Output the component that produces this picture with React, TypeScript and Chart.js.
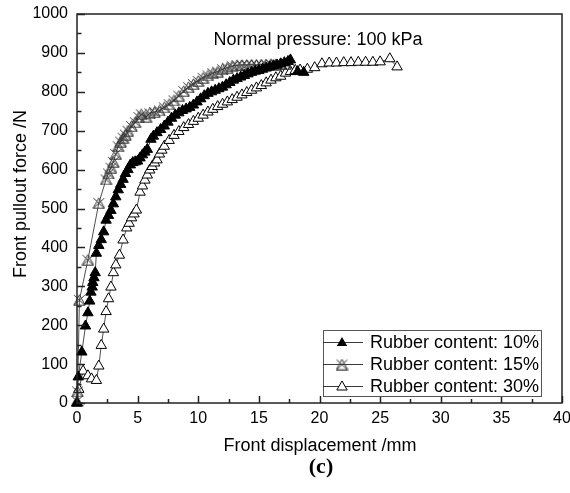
import { useEffect, useRef } from "react";
import { Chart, registerables } from "chart.js";

Chart.register(...registerables);

// Rubber content 10 %
const disp10 = [0, 0.1, 0.4, 0.7, 0.9, 1.05, 1.15, 1.25, 1.3, 1.4, 1.5, 1.6, 1.8, 2.0, 2.2, 2.4, 2.6, 2.8, 3.0, 3.2, 3.4, 3.6, 3.8, 4.0, 4.2, 4.4, 4.6, 4.8, 5.0, 5.2, 5.4, 5.6, 5.8, 6.1, 6.3, 6.6, 6.9, 7.2, 7.5, 7.8, 8.1, 8.4, 8.7, 9.0, 9.3, 9.6, 9.9, 10.2, 10.5, 10.8, 11.1, 11.4, 11.7, 12.0, 12.3, 12.6, 12.9, 13.2, 13.5, 13.8, 14.1, 14.4, 14.7, 15.0, 15.3, 15.6, 15.9, 16.2, 16.5, 16.8, 17.1, 17.4, 17.6, 18.2, 18.7];
const force10 = [0, 67, 131, 198, 232, 262, 285, 298, 310, 322, 335, 385, 405, 420, 440, 470, 482, 495, 512, 530, 548, 562, 575, 590, 600, 612, 618, 620, 622, 630, 638, 645, 652, 678, 686, 695, 703, 712, 722, 732, 740, 746, 752, 756, 760, 766, 774, 782, 790, 796, 800, 804, 808, 812, 818, 824, 830, 834, 838, 842, 846, 850, 853, 855, 858, 861, 864, 867, 869, 872, 875, 878, 882, 852, 850];

// Rubber content 15 %
const disp15 = [0, 0.05, 0.2, 0.9, 1.8, 2.4, 2.6, 2.8, 3.0, 3.2, 3.4, 3.6, 3.8, 4.0, 4.2, 4.5, 4.8, 5.1, 5.3, 5.7, 6.0, 6.4, 6.8, 7.2, 7.6, 8.0, 8.4, 8.8, 9.2, 9.6, 10.0, 10.4, 10.8, 11.2, 11.6, 12.0, 12.4, 12.8, 13.2, 13.6, 14.0, 14.4, 14.8, 15.2, 15.6, 16.0, 16.4, 16.8, 17.2];
const force15 = [5, 30, 265, 368, 514, 575, 590, 605, 620, 640, 660, 672, 682, 690, 700, 712, 722, 735, 742, 736, 745, 748, 752, 760, 768, 778, 790, 802, 812, 820, 828, 836, 842, 848, 852, 858, 862, 866, 868, 869, 869, 870, 869, 870, 870, 871, 870, 872, 872];

// Rubber content 30 %
const disp30 = [0, 0.15, 0.5, 0.9, 1.2, 1.6, 1.8, 2.0, 2.2, 2.4, 2.6, 2.8, 3.0, 3.2, 3.5, 3.8, 4.1, 4.3, 4.5, 4.7, 4.9, 5.2, 5.4, 5.6, 5.8, 6.0, 6.2, 6.4, 6.6, 6.8, 7.0, 7.2, 7.6, 8.0, 8.4, 8.8, 9.2, 9.6, 10.0, 10.4, 10.8, 11.2, 11.6, 12.0, 12.4, 12.8, 13.2, 13.6, 14.0, 14.4, 14.8, 15.2, 15.6, 16.0, 16.4, 16.8, 17.2, 17.6, 18.0, 18.4, 19.0, 19.6, 20.2, 20.8, 21.4, 22.0, 22.6, 23.2, 23.8, 24.4, 25.0, 25.8, 26.4];
const force30 = [0, 35, 82, 70, 62, 58, 95, 148, 190, 235, 268, 298, 335, 355, 380, 419, 450, 462, 476, 486, 496, 542, 558, 573, 586, 599, 608, 617, 625, 640, 650, 660, 675, 688, 698, 708, 716, 724, 732, 740, 748, 755, 762, 768, 774, 780, 786, 792, 798, 804, 810, 816, 823, 830, 836, 840, 848, 852, 855, 856, 858, 862, 872, 874, 874, 875, 875, 876, 876, 876, 877, 885, 864];

const seriesLabels = ["Rubber content: 10%", "Rubber content: 15%", "Rubber content: 30%"];

const xMin = 0, xMax = 40, xStep = 5, xMinorStep = 2.5;
const yMin = 0, yMax = 1000, yStep = 100, yMinorStep = 50;

const SANS = "'Liberation Sans', Arial, sans-serif";

function pairs(xs: number[], ys: number[]) {
  return xs.map((x, i) => ({ x, y: ys[i] }));
}

// triangle with an X through it
function makeCrossTriangle(): HTMLCanvasElement {
  const c = document.createElement("canvas");
  c.width = 13;
  c.height = 12;
  const g = c.getContext("2d")!;
  g.strokeStyle = "#333";
  g.lineWidth = 1;
  g.beginPath();
  g.moveTo(6.5, 0.8);
  g.lineTo(12.2, 11.2);
  g.lineTo(0.8, 11.2);
  g.closePath();
  g.moveTo(1.2, 1.2);
  g.lineTo(11.8, 11.2);
  g.moveTo(11.8, 1.2);
  g.lineTo(1.2, 11.2);
  g.stroke();
  return c;
}

function drawTri(ctx: CanvasRenderingContext2D, x: number, y: number, r: number, filled: boolean) {
  ctx.beginPath();
  ctx.moveTo(x, y - r);
  ctx.lineTo(x + r * 0.866, y + r * 0.5);
  ctx.lineTo(x - r * 0.866, y + r * 0.5);
  ctx.closePath();
  if (filled) {
    ctx.fillStyle = "#000";
    ctx.fill();
  } else {
    ctx.fillStyle = "#fff";
    ctx.fill();
    ctx.strokeStyle = "#000";
    ctx.lineWidth = 1;
    ctx.stroke();
  }
}

export default function App() {
  const ref = useRef<HTMLCanvasElement>(null);

  useEffect(() => {
    const canvas = ref.current;
    if (!canvas) return;
    const crossTri = makeCrossTriangle();

    const framePlugin = {
      id: "frameAndText",
      beforeDraw(chart: any) {
        const ctx = chart.ctx;
        ctx.save();
        ctx.fillStyle = "#fff";
        ctx.fillRect(0, 0, chart.width, chart.height);
        ctx.restore();
      },
      afterDraw(chart: any) {
        const ctx: CanvasRenderingContext2D = chart.ctx;
        const { left, right, top, bottom } = chart.chartArea;
        const xs = chart.scales.x;
        const ys = chart.scales.y;
        ctx.save();

        // plot frame
        ctx.strokeStyle = "#222";
        ctx.lineWidth = 1.5;
        ctx.strokeRect(left, top, right - left, bottom - top);

        // inward ticks on bottom and left axes
        ctx.lineWidth = 1.5;
        ctx.beginPath();
        for (let v = xMin; v <= xMax + 1e-9; v += xMinorStep) {
          const px = Math.round(xs.getPixelForValue(v)) + 0.5;
          const major = Math.abs(v / xStep - Math.round(v / xStep)) < 1e-6;
          ctx.moveTo(px, bottom);
          ctx.lineTo(px, bottom - (major ? 7 : 4));
        }
        for (let v = yMin; v <= yMax + 1e-9; v += yMinorStep) {
          const py = Math.round(ys.getPixelForValue(v)) + 0.5;
          const major = Math.abs(v / yStep - Math.round(v / yStep)) < 1e-6;
          ctx.moveTo(left, py);
          ctx.lineTo(left + (major ? 8 : 4.5), py);
        }
        ctx.stroke();

        // axis titles and annotations
        ctx.fillStyle = "#000";
        ctx.textAlign = "center";
        ctx.textBaseline = "middle";
        ctx.font = `18px ${SANS}`;
        ctx.fillText("Front displacement /mm", 320, 446);
        ctx.fillText("Normal pressure: 100 kPa", 318, 40);
        ctx.save();
        ctx.translate(21, 194);
        ctx.rotate(-Math.PI / 2);
        ctx.fillText("Front pullout force /N", 0, 0);
        ctx.restore();
        ctx.font = `bold 22px 'Liberation Serif', 'Times New Roman', serif`;
        ctx.fillText("(c)", 321, 467);

        // legend
        const lx = 323, ly = 330, lw = 218, lh = 66;
        ctx.fillStyle = "#fff";
        ctx.fillRect(lx, ly, lw, lh);
        ctx.strokeStyle = "#555";
        ctx.lineWidth = 1;
        ctx.strokeRect(lx + 0.5, ly + 0.5, lw, lh);
        const rows = [342, 364, 386];
        ctx.font = `18px ${SANS}`;
        ctx.textAlign = "left";
        rows.forEach((ry, i) => {
          ctx.strokeStyle = "#222";
          ctx.lineWidth = 0.9;
          ctx.beginPath();
          ctx.moveTo(lx, ry + 0.5);
          ctx.lineTo(lx + 40, ry + 0.5);
          ctx.stroke();
          if (i === 0) drawTri(ctx, 342, ry + 1, 6, true);
          else if (i === 1) ctx.drawImage(crossTri, 342 - 6.5, ry - 5.5);
          else drawTri(ctx, 342, ry + 1, 6, false);
          ctx.fillStyle = "#000";
          ctx.fillText(seriesLabels[i], 370, ry + 1);
        });
        ctx.restore();
      },
    };

    const common = {
      showLine: true,
      borderColor: "#222",
      borderWidth: 0.8,
      pointRadius: 6,
      pointHoverRadius: 6,
      pointBorderWidth: 1,
      clip: false as const,
    };

    const chart = new Chart(canvas, {
      type: "scatter",
      data: {
        datasets: [
          {
            ...common,
            label: seriesLabels[0],
            data: pairs(disp10, force10),
            pointStyle: "triangle",
            pointBackgroundColor: "#000",
            pointBorderColor: "#000",
          },
          {
            ...common,
            label: seriesLabels[1],
            data: pairs(disp15, force15),
            pointStyle: crossTri as any,
          },
          {
            ...common,
            label: seriesLabels[2],
            data: pairs(disp30, force30),
            pointStyle: "triangle",
            pointBackgroundColor: "#fff",
            pointBorderColor: "#000",
          },
        ],
      },
      options: {
        responsive: false,
        animation: false,
        events: [],
        layout: { padding: { top: 14, right: 8, left: 0, bottom: 0 } },
        plugins: {
          legend: { display: false },
          tooltip: { enabled: false },
          title: { display: false },
        },
        scales: {
          x: {
            type: "linear",
            min: xMin,
            max: xMax,
            ticks: {
              stepSize: xStep,
              color: "#000",
              padding: 6,
              maxRotation: 0,
              font: { family: SANS, size: 16 },
              callback: (v: any) => String(v),
            },
            grid: { display: false, drawTicks: false },
            border: { display: false },
            afterFit: (s: any) => {
              s.height = 90;
              s.paddingLeft = 0;
              s.paddingRight = 0;
            },
          },
          y: {
            type: "linear",
            min: yMin,
            max: yMax,
            ticks: {
              stepSize: yStep,
              color: "#000",
              padding: 9,
              font: { family: SANS, size: 16 },
              callback: (v: any) => String(v),
            },
            grid: { display: false, drawTicks: false },
            border: { display: false },
            afterFit: (s: any) => {
              s.width = 77;
              s.paddingTop = 0;
              s.paddingBottom = 0;
            },
          },
        },
      },
      plugins: [framePlugin],
    });

    return () => chart.destroy();
  }, []);

  return (
    <div style={{ position: "absolute", left: 0, top: 0, width: 570, height: 493, background: "#fff" }}>
      <canvas ref={ref} width={570} height={493} style={{ display: "block" }} />
    </div>
  );
}
